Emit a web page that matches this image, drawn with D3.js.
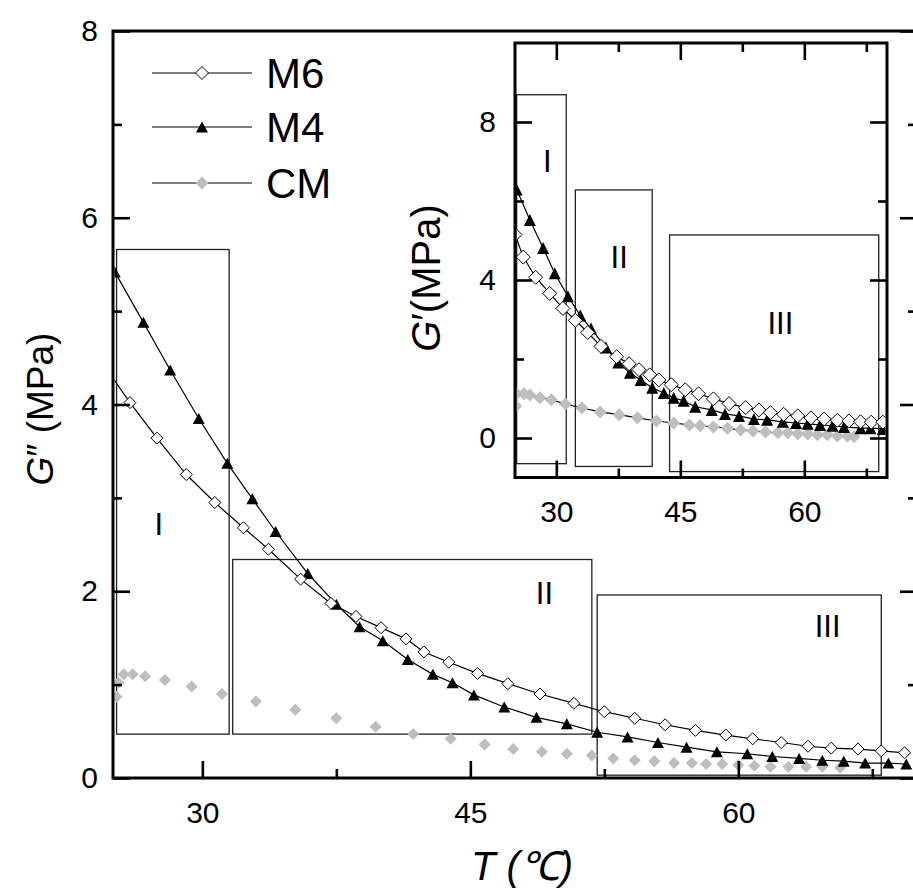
<!DOCTYPE html>
<html>
<head>
<meta charset="utf-8">
<script src="https://cdnjs.cloudflare.com/ajax/libs/d3/7.8.5/d3.min.js"></script>
<style>
	body { margin: 0; background: #fff; }
	text { font-family: "Liberation Sans", Arial, sans-serif; fill: #000; }
</style>
</head>
<body>
<script>
// main plot: loss modulus G'' (MPa) vs temperature
var m6T = [24.45, 25.95, 27.46, 29.1, 30.7, 32.3, 33.7, 35.5, 37.2, 38.6, 40.0, 41.4, 42.4, 43.8, 45.4, 47.1, 48.9, 50.8, 52.5, 54.2, 55.9, 57.6, 59.3, 60.8, 62.4, 63.9, 65.2, 66.7, 68.0, 69.3];
var m6G = [4.43, 4.02, 3.64, 3.25, 2.95, 2.68, 2.45, 2.13, 1.87, 1.73, 1.61, 1.49, 1.35, 1.24, 1.12, 1.01, 0.90, 0.80, 0.71, 0.64, 0.57, 0.51, 0.46, 0.42, 0.38, 0.34, 0.32, 0.31, 0.29, 0.27];
var m4T = [25.1, 26.7, 28.2, 29.8, 31.4, 32.8, 34.1, 35.9, 37.5, 38.8, 40.1, 41.5, 42.9, 44.0, 45.2, 46.9, 48.7, 50.4, 52.1, 53.8, 55.5, 57.1, 58.8, 60.5, 61.9, 63.4, 64.7, 65.9, 67.1, 68.4, 69.4];
var m4G = [5.42, 4.88, 4.37, 3.85, 3.37, 2.99, 2.64, 2.19, 1.86, 1.62, 1.47, 1.27, 1.11, 1.02, 0.89, 0.76, 0.65, 0.58, 0.49, 0.44, 0.38, 0.33, 0.28, 0.26, 0.23, 0.21, 0.19, 0.18, 0.16, 0.16, 0.15];
var cmT = [25.2, 25.3, 25.6, 26.1, 26.8, 27.9, 29.4, 31.1, 33.0, 35.2, 37.5, 39.7, 41.8, 43.9, 45.8, 47.4, 49.0, 50.4, 51.8, 53.0, 54.2, 55.3, 56.4, 57.4, 58.2, 59.1, 60.0, 60.9, 61.8, 62.8, 63.8, 64.7, 65.7];
var cmG = [0.87, 1.02, 1.11, 1.11, 1.09, 1.05, 0.98, 0.90, 0.82, 0.73, 0.64, 0.55, 0.47, 0.42, 0.36, 0.31, 0.28, 0.26, 0.24, 0.21, 0.19, 0.18, 0.16, 0.16, 0.15, 0.15, 0.14, 0.13, 0.12, 0.12, 0.12, 0.12, 0.11];

// inset: storage modulus G' (MPa) vs temperature
var inM6T = [25.0, 26.0, 27.5, 29.2, 30.8, 32.3, 33.8, 35.4, 37.3, 38.8, 40.0, 41.3, 42.4, 43.9, 45.6, 47.2, 49.0, 50.9, 52.9, 54.5, 55.9, 57.5, 59.2, 60.8, 62.4, 64.0, 65.4, 66.8, 68.1, 69.5];
var inM6G = [5.15, 4.58, 4.07, 3.66, 3.28, 2.98, 2.67, 2.32, 2.06, 1.88, 1.73, 1.60, 1.47, 1.35, 1.22, 1.12, 0.99, 0.87, 0.77, 0.71, 0.64, 0.60, 0.56, 0.51, 0.48, 0.45, 0.43, 0.41, 0.40, 0.40];
var inM4T = [25.2, 26.8, 28.4, 29.8, 31.4, 32.9, 34.2, 36.0, 37.5, 38.9, 40.2, 41.6, 43.0, 44.2, 45.4, 46.8, 48.8, 50.4, 52.1, 53.9, 55.5, 57.4, 59.0, 60.4, 61.9, 63.4, 64.8, 66.8, 68.0, 69.5];
var inM4G = [6.29, 5.52, 4.81, 4.17, 3.59, 3.10, 2.77, 2.29, 1.91, 1.65, 1.47, 1.27, 1.14, 1.02, 0.94, 0.79, 0.71, 0.61, 0.56, 0.48, 0.46, 0.41, 0.38, 0.36, 0.33, 0.31, 0.28, 0.25, 0.25, 0.23];
var inCmT = [25.1, 25.2, 26.1, 26.8, 28.0, 29.4, 31.1, 33.1, 35.3, 37.6, 39.8, 42.1, 44.2, 46.1, 47.4, 49.0, 50.7, 52.3, 53.8, 55.3, 56.8, 58.0, 59.2, 60.4, 61.6, 62.8, 64.0, 65.2, 66.0];
var inCmG = [0.81, 1.12, 1.12, 1.09, 1.02, 0.97, 0.86, 0.76, 0.66, 0.59, 0.51, 0.43, 0.38, 0.33, 0.31, 0.28, 0.25, 0.20, 0.18, 0.15, 0.13, 0.13, 0.11, 0.10, 0.08, 0.08, 0.05, 0.05, 0.03];

// regions (T range, G range) and their names
var regionNames = ["I", "II", "III"];
var mainRegionT = [[25.2, 31.5], [31.7, 51.8], [52.1, 68.0]];
var mainRegionG = [[0.47, 5.66], [0.47, 2.34], [0.03, 1.96]];
var insetRegionT = [[25.2, 31.2], [32.3, 41.6], [43.7, 69.0]];
var insetRegionG = [[-0.65, 8.69], [-0.72, 6.28], [-0.85, 5.14]];

// ticks
var mainXMajor = [30, 45, 60], mainXMinor = [37.5, 52.5, 67.5];
var mainYMajor = [0, 2, 4, 6, 8], mainYMinor = [1, 3, 5, 7];
var insetYMajor = [0, 4, 8], insetYMinor = [2, 6];

var seriesNames = ["M6", "M4", "CM"];

var width = 913, height = 894,
	majorTick = 17, minorTick = 9;

var svg = d3.select("body").append("svg")
	.attr("width", width)
	.attr("height", height);

var x = d3.scaleLinear().domain([25, 70]).range([113, 917]),
	y = d3.scaleLinear().domain([0, 8]).range([778, 31]);

var xi = d3.scaleLinear().domain([25, 70]).range([515, 887]),
	yi = d3.scaleLinear().domain([-1, 10]).range([477.5, 43]);

function diamond(r) {
	return "M0," + (-r) + "L" + r + ",0L0," + r + "L" + (-r) + ",0Z";
}

function triangle(w, h) {
	return "M0," + (-h / 2) + "L" + (w / 2) + "," + (h / 2) + "L" + (-w / 2) + "," + (h / 2) + "Z";
}

function zip(ts, gs) {
	return ts.map(function (t, i) { return [t, gs[i]]; });
}

function drawSeries(g, sx, sy, pts, shape, fill, stroke, withLine) {
	if (withLine) {
		g.append("path")
			.datum(pts)
			.attr("fill", "none")
			.attr("stroke", "#000")
			.attr("stroke-width", 1.2)
			.attr("d", d3.line().x(function (d) { return sx(d[0]); }).y(function (d) { return sy(d[1]); }));
	}
	g.selectAll(null)
		.data(pts)
		.enter()
		.append("path")
		.attr("d", shape)
		.attr("transform", function (d) { return "translate(" + sx(d[0]) + "," + sy(d[1]) + ")"; })
		.attr("fill", fill)
		.attr("stroke", stroke)
		.attr("stroke-width", 1);
}

function drawAxis(parent, make, scale, at, major, minor, labels, pad) {
	var g = parent.append("g").attr("transform", at);
	g.append("g").call(make(scale).tickValues(major).tickSize(-majorTick).tickPadding(pad)
		.tickFormat(labels ? d3.format("d") : ""));
	g.append("g").call(make(scale).tickValues(minor).tickSize(-minorTick).tickFormat(""));
	g.selectAll(".domain").remove();
	g.selectAll("g").attr("font-family", null).attr("font-size", null);
	g.selectAll(".tick line").attr("stroke", "#000").attr("stroke-width", 2.6);
	g.selectAll(".tick text").attr("font-size", 30).attr("fill", "#000");
}

function drawRegions(g, sx, sy, ts, gs, labelAt) {
	regionNames.forEach(function (name, i) {
		g.append("rect")
			.attr("x", sx(ts[i][0]))
			.attr("y", sy(gs[i][1]))
			.attr("width", sx(ts[i][1]) - sx(ts[i][0]))
			.attr("height", sy(gs[i][0]) - sy(gs[i][1]))
			.attr("fill", "none")
			.attr("stroke", "#222")
			.attr("stroke-width", 1.3);
		g.append("text")
			.text(name)
			.attr("x", sx(labelAt[i][0]))
			.attr("y", sy(labelAt[i][1]))
			.attr("font-size", 31)
			.attr("text-anchor", "middle")
			.attr("dominant-baseline", "central");
	});
}

// clip paths
var defs = svg.append("defs");
defs.append("clipPath").attr("id", "clipMain").append("rect")
	.attr("x", 114.5).attr("y", 32.5).attr("width", 801).attr("height", 744);
defs.append("clipPath").attr("id", "clipInset").append("rect")
	.attr("x", 516.5).attr("y", 44.5).attr("width", 369).attr("height", 431.5);

// main regions + data
var main = svg.append("g");
drawRegions(main, x, y, mainRegionT, mainRegionG, [[27.57, 2.71], [49.15, 1.98], [65.0, 1.62]]);

var mainData = main.append("g").attr("clip-path", "url(#clipMain)");
drawSeries(mainData, x, y, zip(cmT, cmG), diamond(6), "#bebebe", "none", false);
drawSeries(mainData, x, y, zip(m4T, m4G), triangle(12, 11), "#000", "none", true);
drawSeries(mainData, x, y, zip(m6T, m6G), diamond(6), "#fff", "#000", true);

// main axes
drawAxis(main, d3.axisBottom, x, "translate(0," + y(0) + ")", mainXMajor, mainXMinor, true, 23.5);
drawAxis(main, d3.axisLeft, y, "translate(" + x(25) + ",0)", mainYMajor, mainYMinor, true, 15);
drawAxis(main, d3.axisRight, y, "translate(" + x(70) + ",0)", mainYMajor, mainYMinor, false, 0);

main.append("rect")
	.attr("x", x(25)).attr("y", y(8))
	.attr("width", x(70) - x(25)).attr("height", y(0) - y(8))
	.attr("fill", "none").attr("stroke", "#000").attr("stroke-width", 3);

// axis titles
svg.append("text")
	.attr("transform", "translate(53,409) rotate(-90)")
	.attr("text-anchor", "middle")
	.attr("font-size", 37)
	.html("<tspan font-style=\"italic\">G</tspan>\u2033 (MPa)");

svg.append("text")
	.attr("x", 522)
	.attr("y", 880)
	.attr("text-anchor", "middle")
	.attr("font-size", 40)
	.attr("font-style", "italic")
	.text("T (\u2103)");

// legend
var legend = svg.append("g");
var legendShapes = [
	{ d: diamond(6.5), fill: "#fff", stroke: "#000" },
	{ d: triangle(12, 11), fill: "#000", stroke: "none" },
	{ d: diamond(6.5), fill: "#bebebe", stroke: "none" }
];
var legendRows = [73, 127, 183];
seriesNames.forEach(function (name, i) {
	var row = legend.append("g").attr("transform", "translate(0," + legendRows[i] + ")");
	row.append("line")
		.attr("x1", 152).attr("x2", 252)
		.attr("stroke", "#000").attr("stroke-width", 1.2);
	row.append("path")
		.attr("d", legendShapes[i].d)
		.attr("transform", "translate(202,0)")
		.attr("fill", legendShapes[i].fill)
		.attr("stroke", legendShapes[i].stroke);
	row.append("text")
		.text(name)
		.attr("x", 266)
		.attr("y", 15)
		.attr("font-size", 42);
});

// inset
var inset = svg.append("g");
inset.append("rect")
	.attr("x", xi(25)).attr("y", yi(10))
	.attr("width", xi(70) - xi(25)).attr("height", yi(-1) - yi(10))
	.attr("fill", "#fff");

drawRegions(inset, xi, yi, insetRegionT, insetRegionG, [[28.9, 6.99], [37.6, 4.56], [57.1, 2.91]]);

var insetData = inset.append("g").attr("clip-path", "url(#clipInset)");
drawSeries(insetData, xi, yi, zip(inCmT, inCmG), diamond(6.5), "#bebebe", "none", true);
drawSeries(insetData, xi, yi, zip(inM4T, inM4G), triangle(12, 12), "#000", "none", true);
drawSeries(insetData, xi, yi, zip(inM6T, inM6G), diamond(7), "#fff", "#000", true);

drawAxis(inset, d3.axisBottom, xi, "translate(0," + yi(-1) + ")", mainXMajor, mainXMinor, true, 23);
drawAxis(inset, d3.axisTop, xi, "translate(0," + yi(10) + ")", mainXMajor, mainXMinor, false, 0);
drawAxis(inset, d3.axisLeft, yi, "translate(" + xi(25) + ",0)", insetYMajor, insetYMinor, true, 19);
drawAxis(inset, d3.axisRight, yi, "translate(" + xi(70) + ",0)", insetYMajor, insetYMinor, false, 0);

inset.append("rect")
	.attr("x", xi(25)).attr("y", yi(10))
	.attr("width", xi(70) - xi(25)).attr("height", yi(-1) - yi(10))
	.attr("fill", "none").attr("stroke", "#000").attr("stroke-width", 3);

svg.append("text")
	.attr("transform", "translate(440,278) rotate(-90)")
	.attr("text-anchor", "middle")
	.attr("font-size", 40)
	.html("<tspan font-style=\"italic\">G</tspan>\u2032(MPa)");
</script>
</body>
</html>
